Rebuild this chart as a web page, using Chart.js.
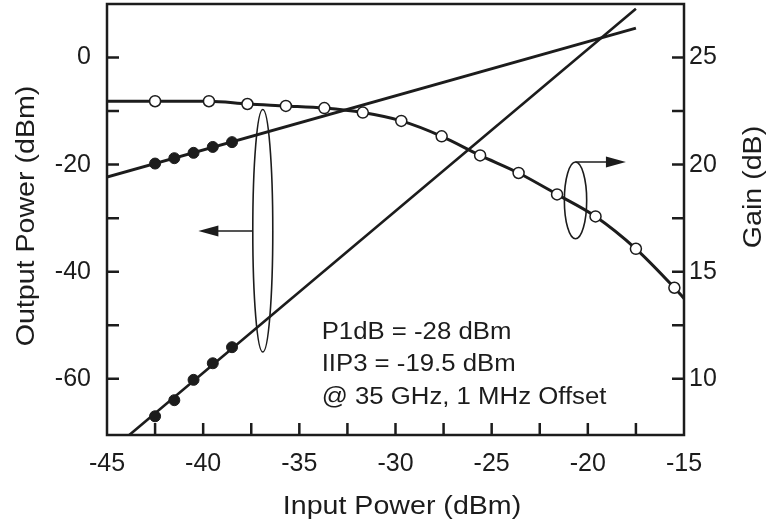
<!DOCTYPE html>
<html>
<head>
<meta charset="utf-8">
<script src="https://cdn.jsdelivr.net/npm/chart.js@4"></script>
<style>
  html, body { margin: 0; padding: 0; background: #fff; }
  #wrap { width: 770px; height: 527px; }
</style>
</head>
<body>
<div id="wrap"><canvas id="myChart" width="770" height="527"></canvas></div>
<script>
'use strict';

// axis labels
let xTicks = [-45, -40, -35, -30, -25, -20, -15];
let powerTicks = [0, -20, -40, -60];
let gainTicks = [25, 20, 15, 10];

// gain vs input power (right axis), open circles
let gainIn = [-42.5, -39.7, -37.7, -35.7, -33.7, -31.7, -29.7, -27.6, -25.6, -23.6, -21.6, -19.6, -17.5, -15.5];
let gainVal = [22.96, 22.96, 22.83, 22.74, 22.64, 22.43, 22.04, 21.32, 20.43, 19.61, 18.61, 17.58, 16.07, 14.25];
// where the gain curve meets the frame
let gainEdgeIn = [-45, -15];
let gainEdgeVal = [22.96, 13.75];

// fundamental output power, filled dots + fitted line
let fundIn = [-42.5, -41.5, -40.5, -39.5, -38.5];
let fundOut = [-19.8, -18.8, -17.8, -16.7, -15.8];
let fundLineIn = [-45, -17.5];
let fundLineOut = [-22.3, 5.5];

// third order intermod, filled dots + fitted line
let im3In = [-42.5, -41.5, -40.5, -39.5, -38.5];
let im3Out = [-67.0, -64.0, -60.2, -57.1, -54.1];
let im3LineIn = [-45, -17.5];
let im3LineOut = [-74.0, 9.1];

let notes = ['P1dB = -28 dBm', 'IIP3 = -19.5 dBm', '@ 35 GHz, 1 MHz Offset'];

const ink = '#1c1c1c';
const fontFamily = '"Liberation Sans", Arial, Helvetica, sans-serif';

function pts(xs, ys) {
    return xs.map((x, i) => ({ x: x, y: ys[i] }));
}

let gainCurve = pts(gainIn, gainVal);
gainCurve.unshift({ x: gainEdgeIn[0], y: gainEdgeVal[0] });
gainCurve.push({ x: gainEdgeIn[1], y: gainEdgeVal[1] });

function arrow(ctx, x0, y, x1) {
    let dir = x1 > x0 ? 1 : -1;
    ctx.beginPath();
    ctx.moveTo(x0, y);
    ctx.lineTo(x1 - dir * 18, y);
    ctx.stroke();
    ctx.beginPath();
    ctx.moveTo(x1, y);
    ctx.lineTo(x1 - dir * 20, y - 5.5);
    ctx.lineTo(x1 - dir * 20, y + 5.5);
    ctx.closePath();
    ctx.fill();
}

function ellipse(ctx, xa, xb, ya, yb) {
    ctx.beginPath();
    ctx.ellipse((xa + xb) / 2, (ya + yb) / 2, Math.abs(xb - xa) / 2, Math.abs(yb - ya) / 2, 0, 0, Math.PI * 2);
    ctx.stroke();
}

// the lettering in this figure runs a bit wide, so stretch along the text
function wideText(ctx, text, x, y, angle, stretch) {
    ctx.save();
    ctx.translate(x, y);
    ctx.rotate(angle);
    ctx.scale(stretch, 1);
    ctx.fillText(text, 0, 0);
    ctx.restore();
}

// no automatic padding around the axes, the plot box is fixed
function fixBox(size) {
    return (s) => {
        if (s.isHorizontal()) s.height = size; else s.width = size;
        s.paddingTop = 0;
        s.paddingBottom = 0;
        s.paddingLeft = 0;
        s.paddingRight = 0;
    };
}

// frame, inward ticks, callouts, note text and axis titles
const decorations = {
    id: 'decorations',
    afterDatasetsDraw(chart) {
        const { ctx, chartArea: a, scales } = chart;
        const x = scales.x, yL = scales.y, yR = scales.yR;
        ctx.save();
        ctx.strokeStyle = ink;
        ctx.fillStyle = ink;

        ctx.lineWidth = 2.5;
        ctx.strokeRect(a.left, a.top, a.right - a.left, a.bottom - a.top);
        ctx.beginPath();
        for (let v = -42.5; v < -15; v += 2.5) {
            let px = x.getPixelForValue(v);
            ctx.moveTo(px, a.bottom);
            ctx.lineTo(px, a.bottom - 12);
        }
        for (let v = -60; v <= 0; v += 10) {
            let py = yL.getPixelForValue(v);
            ctx.moveTo(a.left, py);
            ctx.lineTo(a.left + 12, py);
        }
        for (let v = 10; v <= 25; v += 2.5) {
            let py = yR.getPixelForValue(v);
            ctx.moveTo(a.right, py);
            ctx.lineTo(a.right - 12, py);
        }
        ctx.stroke();

        // output power callout
        ctx.lineWidth = 1.6;
        ellipse(ctx, x.getPixelForValue(-37.42), x.getPixelForValue(-36.38),
            yL.getPixelForValue(-9.7), yL.getPixelForValue(-55.0));
        arrow(ctx, x.getPixelForValue(-37.42), yL.getPixelForValue(-32.4), x.getPixelForValue(-40.25));

        // gain callout
        ellipse(ctx, x.getPixelForValue(-21.22), x.getPixelForValue(-20.06),
            yR.getPixelForValue(20.12), yR.getPixelForValue(16.54));
        arrow(ctx, x.getPixelForValue(-20.64), yR.getPixelForValue(20.12), x.getPixelForValue(-18.02));

        ctx.font = '23px ' + fontFamily;
        ctx.textAlign = 'left';
        ctx.textBaseline = 'alphabetic';
        let noteY = [-52.5, -58.6, -64.7];
        notes.forEach((t, i) => {
            wideText(ctx, t, x.getPixelForValue(-33.84), yL.getPixelForValue(noteY[i]), 0, 1.12);
        });

        ctx.font = '26px ' + fontFamily;
        ctx.textAlign = 'center';
        ctx.textBaseline = 'middle';
        wideText(ctx, 'Input Power (dBm)', 402, 507, 0, 1.1);
        wideText(ctx, 'Output Power (dBm)', 27, 216, -Math.PI / 2, 1.1);
        wideText(ctx, 'Gain (dB)', 754, 187, -Math.PI / 2, 1.1);

        ctx.restore();
    }
};

const tickFont = { family: fontFamily, size: 25 };

const config = {
    type: 'line',
    data: {
        datasets: [{
            label: 'gain curve',
            data: gainCurve,
            yAxisID: 'yR',
            borderColor: ink,
            borderWidth: 3,
            pointRadius: 0,
            cubicInterpolationMode: 'monotone',
            fill: false,
            order: 5
        }, {
            label: 'fundamental fit',
            data: pts(fundLineIn, fundLineOut),
            yAxisID: 'y',
            borderColor: ink,
            borderWidth: 3,
            pointRadius: 0,
            fill: false,
            order: 4
        }, {
            label: 'im3 fit',
            data: pts(im3LineIn, im3LineOut),
            yAxisID: 'y',
            borderColor: ink,
            borderWidth: 2.6,
            pointRadius: 0,
            fill: false,
            order: 3
        }, {
            label: 'gain',
            data: pts(gainIn, gainVal),
            yAxisID: 'yR',
            showLine: false,
            pointRadius: 5.5,
            pointBackgroundColor: '#ffffff',
            pointBorderColor: ink,
            pointBorderWidth: 1.5,
            order: 1
        }, {
            label: 'fundamental',
            data: pts(fundIn, fundOut),
            yAxisID: 'y',
            showLine: false,
            pointRadius: 5.5,
            pointBackgroundColor: ink,
            pointBorderColor: ink,
            pointBorderWidth: 1,
            order: 1
        }, {
            label: 'im3',
            data: pts(im3In, im3Out),
            yAxisID: 'y',
            showLine: false,
            pointRadius: 5.5,
            pointBackgroundColor: ink,
            pointBorderColor: ink,
            pointBorderWidth: 1,
            order: 1
        }]
    },
    options: {
        responsive: false,
        animation: false,
        devicePixelRatio: 1,
        layout: { autoPadding: false, padding: { top: 4, left: 0, right: 0, bottom: 0 } },
        plugins: {
            legend: { display: false },
            tooltip: { enabled: false }
        },
        scales: {
            x: {
                type: 'linear',
                min: -45,
                max: -15,
                afterBuildTicks: (s) => { s.ticks = xTicks.map(v => ({ value: v })); },
                afterFit: fixBox(92),
                grid: { display: false, drawTicks: false },
                border: { display: false },
                ticks: { font: tickFont, color: ink, padding: 14, maxRotation: 0, autoSkip: false }
            },
            y: {
                position: 'left',
                min: -70.5,
                max: 10,
                afterBuildTicks: (s) => { s.ticks = powerTicks.map(v => ({ value: v })); },
                afterFit: fixBox(107),
                grid: { display: false, drawTicks: false },
                border: { display: false },
                ticks: { font: tickFont, color: ink, padding: 16, autoSkip: false }
            },
            yR: {
                position: 'right',
                min: 7.375,
                max: 27.5,
                afterBuildTicks: (s) => { s.ticks = gainTicks.map(v => ({ value: v })); },
                afterFit: fixBox(86),
                grid: { display: false, drawTicks: false },
                border: { display: false },
                ticks: { font: tickFont, color: ink, padding: 5, autoSkip: false }
            }
        }
    },
    plugins: [decorations]
};

var myChart = new Chart(document.getElementById('myChart'), config);
</script>
</body>
</html>
